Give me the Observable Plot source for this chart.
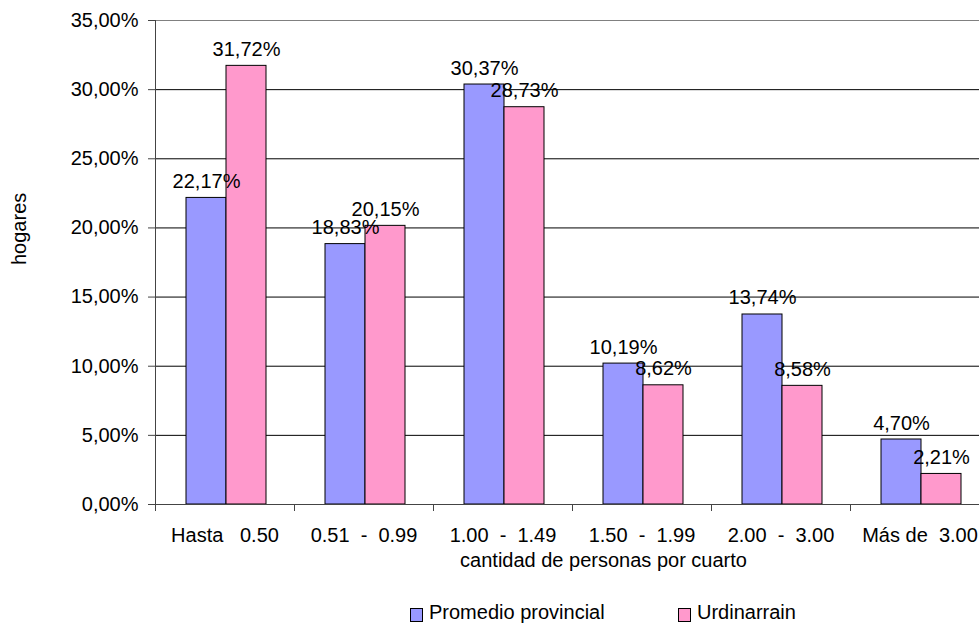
<!DOCTYPE html>
<html><head><meta charset="utf-8">
<script src="https://cdn.jsdelivr.net/npm/d3@7"></script>
<script src="https://cdn.jsdelivr.net/npm/@observablehq/plot@0.6"></script>
<style>
body{margin:0;background:#fff;overflow:hidden}
#chart{position:relative;width:979px;height:624px;font-family:"Liberation Sans",Arial,sans-serif;overflow:hidden}
#chart svg text{white-space:pre}
.sw{position:absolute;width:11px;height:12px;border:1px solid #000;box-sizing:content-box}
.lt{position:absolute;font-size:20px;line-height:20px;color:#000;white-space:nowrap}
</style></head><body><div id="chart"></div>
<script>
const categories = ["Hasta   0.50", "0.51  -  0.99", "1.00  -  1.49", "1.50  -  1.99", "2.00  -  3.00", "Más de  3.00"];
const series = ["Promedio provincial", "Urdinarrain"];
const promedio = [22.17, 18.83, 30.37, 10.19, 13.74, 4.70];
const urdinarrain = [31.72, 20.15, 28.73, 8.62, 8.58, 2.21];
const colors = ["#9999FF", "#FF99CC"];
const yTicks = [0, 5, 10, 15, 20, 25, 30, 35];
const gridTicks = [5, 10, 15, 20, 25, 30];
const xTitle = "cantidad de personas por cuarto";
const yTitle = "hogares";

const fmt = v => v.toFixed(2).replace(".", ",") + "%";
const data = categories.flatMap((c, i) => [
  {cat: c, series: series[0], value: promedio[i]},
  {cat: c, series: series[1], value: urdinarrain[i]}
]);

const chart = Plot.plot({
  width: 979,
  height: 590,
  marginLeft: 155,
  marginRight: 0,
  marginTop: 20,
  marginBottom: 86,
  style: {fontSize: "20px", fontFamily: "'Liberation Sans', Arial, sans-serif", color: "#000", background: "#fff", overflow: "hidden"},
  facet: {marginTop: 0, marginRight: 0, marginBottom: 0, marginLeft: 0},
  fx: {domain: categories, padding: 0, range: [155, 989], label: null},
  x: {domain: series, paddingInner: 0, paddingOuter: 0.7375, align: 0.52, axis: null},
  y: {domain: [0, 35], label: null},
  color: {domain: series, range: colors},
  marks: [
    Plot.ruleY(gridTicks, {stroke: "#000", strokeWidth: 1}),
    Plot.ruleY([35], {stroke: "#808080", strokeWidth: 1}),
    Plot.barY(data, {fx: "cat", x: "series", y: "value", fill: "series", stroke: "#000", strokeWidth: 1}),
    Plot.ruleY([0], {stroke: "#444"}),
    Plot.frame({anchor: "left", facetAnchor: "left", stroke: "#444"}),
    Plot.axisY({ticks: yTicks, tickSize: 7, tickPadding: 10, tickFormat: fmt, label: null, stroke: "#444", fill: "#000"}),
    Plot.axisFx({anchor: "bottom", tickSize: 7, tickFormat: () => "", dx: -69.5, label: null, stroke: "#444"}),
    Plot.axisFx({anchor: "bottom", tickSize: 0, tickPadding: 23.5, label: null, fill: "#000"}),
    Plot.text(data, {fx: "cat", x: "series", y: "value", text: d => fmt(d.value), lineAnchor: "bottom", dy: -10, fill: "#000"}),
    Plot.text([xTitle], {facet: "super", frameAnchor: "bottom", text: d => d, dx: 31, dy: 62, lineAnchor: "bottom", fill: "#000"}),
    Plot.text([yTitle], {facet: "super", frameAnchor: "left", text: d => d, rotate: -90, dx: -136, dy: 2.5, fill: "#000"})
  ]
});

const root = document.getElementById("chart");
root.appendChild(chart);

const legendPos = [{sw: 410, tx: 429}, {sw: 678, tx: 697}];
series.forEach((s, i) => {
  const sw = document.createElement("div");
  sw.className = "sw";
  sw.style.left = legendPos[i].sw + "px";
  sw.style.top = "608px";
  sw.style.background = colors[i];
  root.appendChild(sw);
  const t = document.createElement("div");
  t.className = "lt";
  t.style.left = legendPos[i].tx + "px";
  t.style.top = "602px";
  t.textContent = s;
  root.appendChild(t);
});
</script></body></html>
